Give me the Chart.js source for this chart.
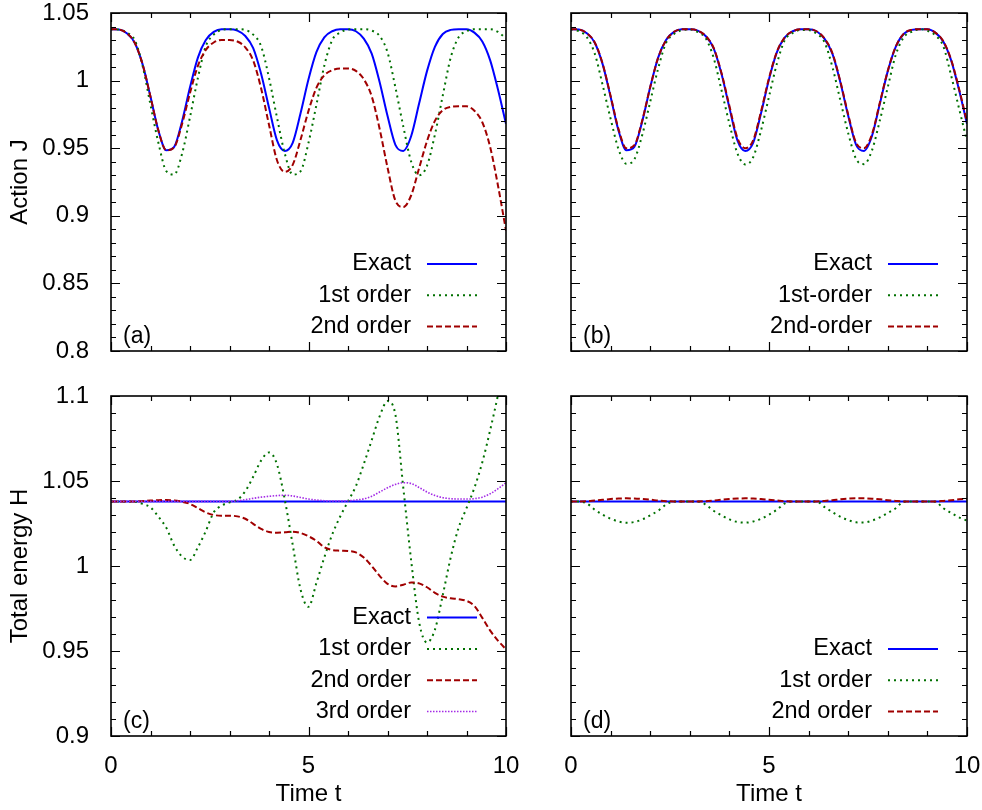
<!DOCTYPE html>
<html>
<head>
<meta charset="utf-8">
<script src="https://cdn.jsdelivr.net/npm/chart.js@4.4.1/dist/chart.umd.min.js"></script>
<style>
  html, body { margin: 0; padding: 0; background: #fff; }
  #wrap { position: relative; width: 982px; height: 810px; }
  #wrap canvas { position: absolute; left: 0; top: 0; }
</style>
</head>
<body>
<div id="wrap">
  <canvas id="panel-a" width="982" height="810"></canvas>
  <canvas id="panel-b" width="982" height="810"></canvas>
  <canvas id="panel-c" width="982" height="810"></canvas>
  <canvas id="panel-d" width="982" height="810"></canvas>
</div>
<script>
// time grid shared by every series
const timeT = [0, 0.2, 0.4, 0.6, 0.8, 1, 1.2, 1.4, 1.6, 1.8, 2, 2.2, 2.4, 2.6, 2.8, 3, 3.2, 3.4, 3.6, 3.8,
  4, 4.2, 4.4, 4.6, 4.8, 5, 5.2, 5.4, 5.6, 5.8, 6, 6.2, 6.4, 6.6, 6.8, 7, 7.2, 7.4, 7.6, 7.8,
  8, 8.2, 8.4, 8.6, 8.8, 9, 9.2, 9.4, 9.6, 9.8, 10];

const timeTicks = [0, 5, 10];
const actionTicks = [0.8, 0.85, 0.9, 0.95, 1, 1.05];
const energyTicks = [0.9, 0.95, 1, 1.05, 1.1];

// action J, panels (a) and (b)
const exactJ = [1.038, 1.0378, 1.035, 1.028, 1.012, 0.988, 0.963, 0.9485, 0.951, 0.970,
  0.995, 1.017, 1.030, 1.036, 1.038, 1.038, 1.037, 1.033, 1.024, 1.005,
  0.980, 0.956, 0.948, 0.954, 0.976, 1.001, 1.021, 1.032, 1.0365, 1.038,
  1.038, 1.0365, 1.031, 1.020, 0.999, 0.974, 0.9525, 0.948, 0.959, 0.983,
  1.007, 1.025, 1.0345, 1.0375, 1.038, 1.038, 1.0355, 1.029, 1.015, 0.993, 0.968];
const firstJa = [1.038, 1.0377, 1.0355, 1.030, 1.011, 0.982, 0.954, 0.933, 0.9305, 0.946,
  0.973, 1.002, 1.0255, 1.034, 1.0375, 1.038, 1.038, 1.0375, 1.034, 1.0255,
  1.002, 0.973, 0.946, 0.9305, 0.933, 0.954, 0.982, 1.011, 1.030, 1.0355,
  1.0377, 1.038, 1.038, 1.037, 1.033, 1.021, 0.995, 0.966, 0.940, 0.930,
  0.937, 0.960, 0.989, 1.017, 1.032, 1.0365, 1.038, 1.038, 1.038, 1.036, 1.031];
const secondJa = [1.038, 1.0378, 1.035, 1.028, 1.012, 0.988, 0.963, 0.9485, 0.9507, 0.968,
  0.9908, 1.0109, 1.0227, 1.0282, 1.030, 1.030, 1.0289, 1.0246, 1.0148, 0.9943,
  0.9673, 0.9413, 0.9326, 0.9377, 0.9564, 0.9776, 0.9946, 1.0039, 1.0077, 1.009,
  1.009, 1.0072, 1.001, 0.9884, 0.9644, 0.9358, 0.9112, 0.9065, 0.9152, 0.9352,
  0.9552, 0.9702, 0.9781, 0.9806, 0.981, 0.981, 0.9777, 0.9692, 0.9507, 0.9219, 0.889];
const firstJb = [1.038, 1.0365, 1.0321, 1.020, 0.9966, 0.9718, 0.9493, 0.9385, 0.9418, 0.9599,
  0.9843, 1.0088, 1.0279, 1.0345, 1.0372, 1.0378, 1.0359, 1.0314, 1.0171, 0.993,
  0.9681, 0.9464, 0.938, 0.9433, 0.9633, 0.9881, 1.0126, 1.030, 1.0352, 1.0375,
  1.0374, 1.0347, 1.0285, 1.0102, 0.9856, 0.9611, 0.942, 0.9382, 0.9484, 0.9706,
  0.9952, 1.019, 1.0319, 1.0361, 1.038, 1.0369, 1.0335, 1.0255, 1.0037, 0.9793, 0.9553];
const secondJb = [1.038, 1.0378, 1.0351, 1.0282, 1.0124, 0.9887, 0.9641, 0.9499, 0.9522, 0.9707,
  0.9952, 1.0168, 1.0298, 1.036, 1.038, 1.038, 1.037, 1.0331, 1.0243, 1.0057,
  0.9813, 0.9578, 0.950, 0.9558, 0.9773, 1.0018, 1.0214, 1.0321, 1.0365, 1.038,
  1.038, 1.0365, 1.0312, 1.0204, 0.9996, 0.9749, 0.9539, 0.950, 0.9603, 0.9838,
  1.0073, 1.0251, 1.0346, 1.0375, 1.038, 1.038, 1.0355, 1.0292, 1.0154, 0.9938, 0.9694];

// total energy H, panels (c) and (d)
const exactH = [1.038, 1.038, 1.038, 1.038, 1.038, 1.038, 1.038, 1.038, 1.038, 1.038,
  1.038, 1.038, 1.038, 1.038, 1.038, 1.038, 1.038, 1.038, 1.038, 1.038,
  1.038, 1.038, 1.038, 1.038, 1.038, 1.038, 1.038, 1.038, 1.038, 1.038,
  1.038, 1.038, 1.038, 1.038, 1.038, 1.038, 1.038, 1.038, 1.038, 1.038,
  1.038, 1.038, 1.038, 1.038, 1.038, 1.038, 1.038, 1.038, 1.038, 1.038, 1.038];
const firstHc = [1.038, 1.038, 1.038, 1.0378, 1.0365, 1.0345, 1.029, 1.0225, 1.012, 1.0055,
  1.0035, 1.011, 1.0205, 1.0315, 1.0355, 1.0375, 1.039, 1.044, 1.0525, 1.062,
  1.0668, 1.060, 1.039, 1.0125, 0.986, 0.976, 0.990, 1.005, 1.0185, 1.029,
  1.038, 1.047, 1.060, 1.074, 1.088, 1.097, 1.089, 1.046, 1.003, 0.967,
  0.955, 0.9625, 0.983, 1.005, 1.0225, 1.034, 1.046, 1.061, 1.080, 1.101, 1.125];
const secondHc = [1.038, 1.038, 1.038, 1.038, 1.0382, 1.0385, 1.0387, 1.0388, 1.0386, 1.0378,
  1.0365, 1.034, 1.0315, 1.030, 1.0296, 1.0296, 1.0292, 1.0278, 1.0248, 1.0218,
  1.020, 1.0196, 1.0198, 1.0202, 1.0194, 1.0175, 1.0148, 1.011, 1.0094, 1.009,
  1.0088, 1.008, 1.005, 1.000, 0.9942, 0.9895, 0.988, 0.989, 0.9903, 0.9898,
  0.9875, 0.9842, 0.982, 0.981, 0.9805, 0.9795, 0.9765, 0.9695, 0.962, 0.956, 0.951];
const thirdHc = [1.038, 1.038, 1.038, 1.038, 1.038, 1.038, 1.038, 1.038, 1.038, 1.038,
  1.038, 1.038, 1.038, 1.038, 1.038, 1.038, 1.0384, 1.039, 1.0398, 1.0405,
  1.041, 1.0414, 1.0416, 1.0412, 1.0403, 1.0394, 1.0388, 1.0384, 1.0382, 1.0382,
  1.0384, 1.0388, 1.0395, 1.041, 1.0435, 1.046, 1.048, 1.049, 1.0485, 1.0462,
  1.0435, 1.0415, 1.0402, 1.0396, 1.0394, 1.0394, 1.0396, 1.0405, 1.0425, 1.0455, 1.049];
const firstHd = [1.038, 1.038, 1.0368, 1.0331, 1.0302, 1.0278, 1.0262, 1.0255, 1.0259, 1.0274,
  1.0298, 1.0325, 1.0361, 1.038, 1.038, 1.038, 1.038, 1.0361, 1.0325, 1.0298,
  1.0274, 1.0259, 1.0255, 1.0262, 1.0278, 1.0302, 1.0331, 1.0368, 1.038, 1.038,
  1.038, 1.038, 1.0347, 1.0317, 1.029, 1.027, 1.0257, 1.0256, 1.0267, 1.0286,
  1.0312, 1.034, 1.0378, 1.038, 1.038, 1.038, 1.0378, 1.034, 1.0312, 1.0286, 1.0267];
const secondHd = [1.038, 1.038, 1.0381, 1.0385, 1.0389, 1.0394, 1.0397, 1.0398, 1.0397, 1.0394,
  1.039, 1.0385, 1.0381, 1.038, 1.038, 1.038, 1.038, 1.0381, 1.0385, 1.039,
  1.0394, 1.0397, 1.0398, 1.0397, 1.0394, 1.0389, 1.0385, 1.0381, 1.038, 1.038,
  1.038, 1.038, 1.0383, 1.0387, 1.0392, 1.0396, 1.0398, 1.0398, 1.0396, 1.0392,
  1.0387, 1.0383, 1.038, 1.038, 1.038, 1.038, 1.038, 1.0383, 1.0387, 1.0392, 1.0396];

const FONT = '"Liberation Sans", Arial, Helvetica, sans-serif';
const FONT_SIZE = 24;
const KEY_SIZE = 23.5;
const PAGE_W = 982, PAGE_H = 810;

const lineStyles = {
  exact:  { borderColor: '#0000ff', borderWidth: 2, borderDash: [] },
  first:  { borderColor: '#007000', borderWidth: 2, borderDash: [2, 4] },
  second: { borderColor: '#a00000', borderWidth: 2, borderDash: [6, 3] },
  third:  { borderColor: '#a42be6', borderWidth: 1.6, borderDash: [1.5, 1.5] }
};

Chart.defaults.font.family = FONT;
Chart.defaults.font.size = FONT_SIZE;
Chart.defaults.color = '#000';

// frame, inward ticks on all four sides, key and panel letter
const framePlugin = {
  id: 'frame',
  afterDatasetsDraw(chart, args, opts) {
    const { ctx, chartArea: a, scales: { x, y } } = chart;
    ctx.save();
    ctx.strokeStyle = '#000';
    ctx.lineWidth = 1.2;
    ctx.setLineDash([]);
    ctx.beginPath();
    for (let k = Math.round(y.min * 100); k <= Math.round(y.max * 100); k++) {
      const py = Math.round(y.getPixelForValue(k / 100)) + 0.5;
      const len = k % 5 === 0 ? 9 : 5;
      ctx.moveTo(a.left, py); ctx.lineTo(a.left + len, py);
      ctx.moveTo(a.right, py); ctx.lineTo(a.right - len, py);
    }
    for (let k = x.min; k <= x.max; k++) {
      const px = Math.round(x.getPixelForValue(k)) + 0.5;
      const len = k % 5 === 0 ? 9 : 5;
      ctx.moveTo(px, a.bottom); ctx.lineTo(px, a.bottom - len);
      ctx.moveTo(px, a.top); ctx.lineTo(px, a.top + len);
    }
    ctx.stroke();
    ctx.lineWidth = 1.6;
    ctx.strokeRect(a.left, a.top, a.right - a.left, a.bottom - a.top);

    // key, anchored to the lower right corner
    ctx.font = KEY_SIZE + 'px ' + FONT;
    ctx.fillStyle = '#000';
    ctx.textBaseline = 'middle';
    const sets = chart.data.datasets;
    sets.forEach((ds, i) => {
      const ry = a.bottom - 24.5 - (sets.length - 1 - i) * 31.3;
      ctx.textAlign = 'right';
      ctx.fillText(ds.label, a.right - 95, ry);
      ctx.strokeStyle = ds.borderColor;
      ctx.lineWidth = ds.borderWidth;
      ctx.setLineDash(ds.borderDash);
      ctx.beginPath();
      ctx.moveTo(a.right - 79, ry);
      ctx.lineTo(a.right - 29, ry);
      ctx.stroke();
    });
    ctx.setLineDash([]);
    ctx.font = '23px ' + FONT;
    ctx.textAlign = 'left';
    ctx.fillStyle = '#000';
    ctx.fillText(opts.tag, a.left + 12, a.bottom - 14);
    ctx.restore();
  }
};

function series(label, values, style, order) {
  return Object.assign({
    label: label,
    data: timeT.map((t, i) => ({ x: t, y: values[i] })),
    pointRadius: 0,
    fill: false,
    cubicInterpolationMode: 'monotone',
    borderCapStyle: 'butt',
    order: order
  }, style);
}

function makePanel(id, p) {
  const showX = !!p.xTitle, showY = !!p.yTitle;
  new Chart(document.getElementById(id), {
    type: 'line',
    data: { datasets: p.sets },
    options: {
      responsive: false,
      animation: false,
      events: [],
      layout: {
        padding: {
          left: showY ? 0 : p.area.left,
          right: PAGE_W - p.area.right,
          top: p.area.top,
          bottom: showX ? 0 : PAGE_H - p.area.bottom
        }
      },
      plugins: { legend: { display: false }, tooltip: { enabled: false }, frame: { tag: p.tag } },
      scales: {
        x: {
          type: 'linear', min: 0, max: 10, display: showX,
          grid: { display: false }, border: { display: false },
          afterBuildTicks: s => { s.ticks = timeTicks.map(v => ({ value: v })); },
          afterFit: s => {
            s.height = showX ? PAGE_H - p.area.bottom : 0;
            s.paddingLeft = 0; s.paddingRight = 0;
          },
          ticks: { padding: 8, autoSkip: false, maxRotation: 0, callback: v => String(v) },
          title: { display: showX, text: p.xTitle || '', padding: { top: 0, bottom: 1 }, font: { size: FONT_SIZE } }
        },
        y: {
          type: 'linear', min: p.yTicks[0], max: p.yTicks[p.yTicks.length - 1], display: showY,
          grid: { display: false }, border: { display: false },
          afterBuildTicks: s => { s.ticks = p.yTicks.map(v => ({ value: v })); },
          afterFit: s => {
            s.width = showY ? p.area.left : 0;
            s.paddingTop = 0; s.paddingBottom = 0;
          },
          ticks: { padding: 14, autoSkip: false, callback: v => String(v) },
          title: { display: showY, text: p.yTitle || '', padding: { top: 6, bottom: 0 }, font: { size: FONT_SIZE } }
        }
      }
    },
    plugins: [framePlugin]
  });
}

makePanel('panel-a', {
  tag: '(a)', area: { left: 111, top: 13, right: 506, bottom: 351 },
  yTicks: actionTicks, yTitle: 'Action J',
  sets: [
    series('Exact', exactJ, lineStyles.exact, 3),
    series('1st order', firstJa, lineStyles.first, 2),
    series('2nd order', secondJa, lineStyles.second, 1)
  ]
});
makePanel('panel-b', {
  tag: '(b)', area: { left: 571, top: 13, right: 967, bottom: 351 },
  yTicks: actionTicks,
  sets: [
    series('Exact', exactJ, lineStyles.exact, 3),
    series('1st-order', firstJb, lineStyles.first, 2),
    series('2nd-order', secondJb, lineStyles.second, 1)
  ]
});
makePanel('panel-c', {
  tag: '(c)', area: { left: 111, top: 396, right: 506, bottom: 736 },
  yTicks: energyTicks, yTitle: 'Total energy H', xTitle: 'Time t',
  sets: [
    series('Exact', exactH, lineStyles.exact, 4),
    series('1st order', firstHc, lineStyles.first, 3),
    series('2nd order', secondHc, lineStyles.second, 2),
    series('3rd order', thirdHc, lineStyles.third, 1)
  ]
});
makePanel('panel-d', {
  tag: '(d)', area: { left: 571, top: 396, right: 967, bottom: 736 },
  yTicks: energyTicks, xTitle: 'Time t',
  sets: [
    series('Exact', exactH, lineStyles.exact, 3),
    series('1st order', firstHd, lineStyles.first, 2),
    series('2nd order', secondHd, lineStyles.second, 1)
  ]
});
</script>
</body>
</html>
